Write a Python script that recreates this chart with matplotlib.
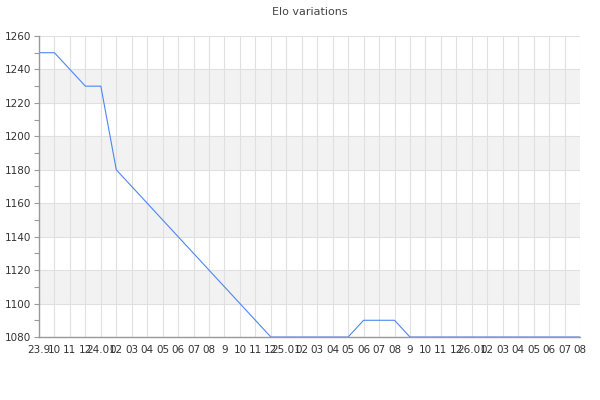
import numpy as np
import matplotlib
matplotlib.use("Agg")
import matplotlib.pyplot as plt
from matplotlib.ticker import MultipleLocator

# month labels as shown on the chart (overlapping in the original too)
labels = ["23.9", "10", "11", "12",
          "24.01", "02", "03", "04", "05", "06", "07", "08", "9", "10", "11", "12",
          "25.01", "02", "03", "04", "05", "06", "07", "08", "9", "10", "11", "12",
          "26.01", "02", "03", "04", "05", "06", "07", "08"]

elo = [1250, 1250, 1240, 1230,
       1230, 1180, 1170, 1160, 1150, 1140, 1130, 1120, 1110, 1100, 1090, 1080,
       1080, 1080, 1080, 1080, 1080, 1090, 1090, 1090, 1080, 1080, 1080, 1080,
       1080, 1080, 1080, 1080, 1080, 1080, 1080, 1080]

y_min, y_max = 1080, 1260
x = np.arange(len(labels))

fig = plt.figure(figsize=(6, 4), dpi=100)
ax = fig.add_axes([39/600, 63/400, 541/600, 301/400])

# alternating bands
for lo in range(1100, 1260, 40):
    ax.axhspan(lo, lo + 20, color="#f2f2f2", zorder=0, lw=0)

ax.plot(x, elo, color="#4d86f0", lw=0.8, zorder=2)

ax.set_xlim(0, len(labels) - 1)
ax.set_ylim(y_min, y_max)
ax.set_xticks(x)
ax.set_xticklabels(labels)
ax.yaxis.set_major_locator(MultipleLocator(20))
ax.yaxis.set_minor_locator(MultipleLocator(10))

ax.grid(True, which="major", color="#e0e0e0", lw=0.8, zorder=1)
ax.set_axisbelow(True)

for side in ["top", "right"]:
    ax.spines[side].set_visible(False)
for side in ["left", "bottom"]:
    ax.spines[side].set_color("#999999")
    ax.spines[side].set_linewidth(1.0)
    ax.spines[side].set_zorder(3)

ax.tick_params(axis="x", length=0, pad=6, labelsize=7.5, labelcolor="#333333")
ax.tick_params(axis="y", which="both", length=3.5, width=0.8, color="#999999",
               pad=2, labelsize=7.5, labelcolor="#333333")

ax.set_title("Elo variations", fontsize=8, color="#444444", pad=15)

fig.savefig("out.png", dpi=100)
